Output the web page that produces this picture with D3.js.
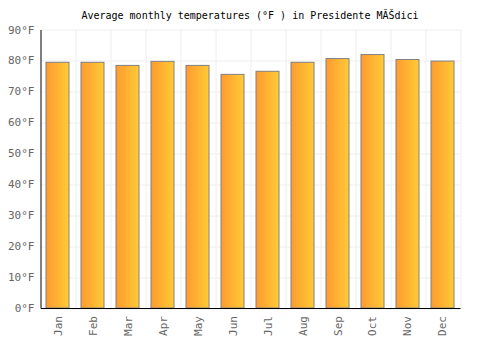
<!DOCTYPE html>
<html>
<head>
<meta charset="utf-8">
<script src="https://cdn.jsdelivr.net/npm/d3@7.9.0/dist/d3.min.js"></script>
<style>
  body { margin: 0; background: #fff; }
  svg { font-family: "DejaVu Sans Mono", monospace; }
</style>
</head>
<body>
<svg id="chart" width="500" height="350"></svg>
<script>
const months = ["Jan", "Feb", "Mar", "Apr", "May", "Jun", "Jul", "Aug", "Sep", "Oct", "Nov", "Dec"];
const temps = [79.4, 79.4, 78.4, 79.7, 78.4, 75.5, 76.5, 79.4, 80.6, 81.9, 80.3, 79.8];
const yTicks = [0, 10, 20, 30, 40, 50, 60, 70, 80, 90];
const title = "Average monthly temperatures (°F ) in Presidente MĂŠdici";

let svg = d3.select("#chart");
let margin = { top: 29.5, right: 40, bottom: 42, left: 40.5 };
let width = 500 - margin.left - margin.right;
let height = 350 - margin.top - margin.bottom;

let defs = svg.append("defs");
let grad = defs.append("linearGradient").attr("id", "barGrad")
    .attr("x1", "0%").attr("x2", "100%").attr("y1", "0%").attr("y2", "0%");
grad.append("stop").attr("offset", "0%").attr("stop-color", "#ff9a30");
grad.append("stop").attr("offset", "100%").attr("stop-color", "#ffcb35");

let g = svg.append("g").attr("transform", `translate(${margin.left},${margin.top})`);

let xScale = d3.scaleBand().domain(months).range([0, width]).paddingInner(0.3).paddingOuter(0.15);
let yScale = d3.scaleLinear().domain([0, 90]).range([height, 0]);

// grid
g.selectAll(".hgrid").data(yTicks).enter().append("line")
    .attr("x1", 0).attr("x2", width)
    .attr("y1", d => Math.round(yScale(d)) + 0.5).attr("y2", d => Math.round(yScale(d)) + 0.5)
    .attr("stroke", "#eeeeee");
let step = xScale.step();
g.selectAll(".vgrid").data(months).enter().append("line")
    .attr("x1", (d, i) => Math.round(i * step + step) + 0.5)
    .attr("x2", (d, i) => Math.round(i * step + step) + 0.5)
    .attr("y1", 0).attr("y2", height)
    .attr("stroke", "#eeeeee");

// bars
g.selectAll(".bar").data(temps).enter().append("rect")
    .attr("x", (d, i) => Math.round(xScale(months[i])) + 0.5)
    .attr("y", d => yScale(d))
    .attr("width", Math.round(xScale.bandwidth()) - 1)
    .attr("height", d => height - yScale(d))
    .attr("fill", "url(#barGrad)")
    .attr("stroke", "#808080")
    .attr("stroke-width", 1);

// axes
let yAxis = g.append("g").call(d3.axisLeft(yScale).tickValues(yTicks).tickSize(0).tickPadding(6).tickFormat(d => d + "°F"));
yAxis.select(".domain").attr("stroke", "#000");
yAxis.selectAll("text").attr("fill", "#666").attr("font-size", "11px").attr("font-family", "DejaVu Sans Mono");

let xAxis = g.append("g").attr("transform", `translate(0,${height})`)
    .call(d3.axisBottom(xScale).tickSize(0).tickPadding(8));
xAxis.select(".domain").attr("stroke", "#000");
xAxis.selectAll("text")
    .attr("fill", "#666").attr("font-size", "11px").attr("font-family", "DejaVu Sans Mono")
    .attr("transform", "rotate(-90)")
    .attr("text-anchor", "end")
    .attr("dy", "0.35em")
    .attr("x", -8).attr("y", 0);

svg.append("text")
    .attr("x", 250).attr("y", 19)
    .attr("text-anchor", "middle")
    .attr("font-size", "10px")
    .attr("fill", "#000")
    .text(title);
</script>
</body>
</html>
